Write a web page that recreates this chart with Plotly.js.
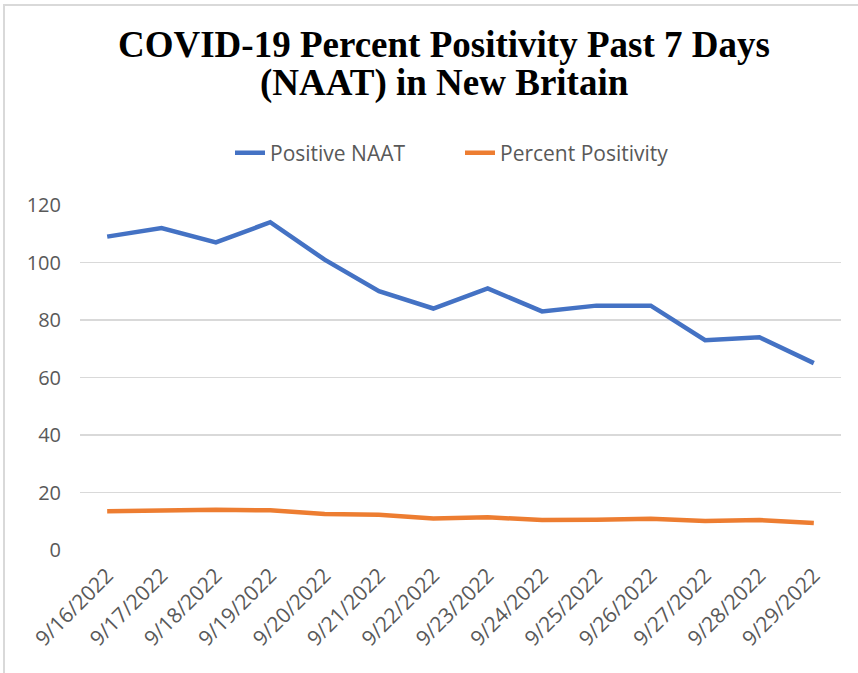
<!DOCTYPE html>
<html>
<head>
<meta charset="utf-8">
<script src="https://cdn.plot.ly/plotly-3.0.1.min.js"></script>
<style>
html,body{margin:0;padding:0;background:#fff;}
#frame{position:absolute;left:3px;top:4px;width:900px;height:700px;border-top:2px solid #d9d9d9;border-left:2px solid #d9d9d9;}
#chart{position:absolute;left:0;top:0;width:858px;height:673px;}
</style>
</head>
<body>
<div id="frame"></div>
<div id="chart"></div>
<script>
const dates = ["9/16/2022","9/17/2022","9/18/2022","9/19/2022","9/20/2022","9/21/2022","9/22/2022","9/23/2022","9/24/2022","9/25/2022","9/26/2022","9/27/2022","9/28/2022","9/29/2022"];
const positiveNAAT = [109,112,107,114,101,90,84,91,83,85,85,73,74,65];
const percentPositivity = [13.5,13.9,14.0,13.8,12.5,12.3,11.0,11.4,10.4,10.5,10.9,10.1,10.4,9.4];
const yTicks = [0,20,40,60,80,100,120];
const titleLines = ["COVID-19 Percent Positivity Past 7 Days", "(NAAT) in New Britain"];

const W = 858, H = 673, mL = 80, mR = 17, mT = 205, mB = 123;
const plotW = W - mL - mR, plotH = H - mT - mB;
const px2x = x => (x - mL) / plotW;
const py2y = y => (H - mB - y) / plotH;

const traces = [
  {x: dates, y: positiveNAAT, name: "Positive NAAT", type: "scatter", mode: "lines",
   line: {color: "#4472C4", width: 4.5}},
  {x: dates, y: percentPositivity, name: "Percent Positivity", type: "scatter", mode: "lines",
   line: {color: "#ED7D31", width: 4.5}}
];

const titleFont = {family: "Liberation Serif, Times New Roman, serif", size: 37, color: "#000", weight: "bold"};
const tickFontFamily = "Open Sans, Liberation Sans, sans-serif";

const layout = {
  width: W, height: H,
  paper_bgcolor: "rgba(0,0,0,0)", plot_bgcolor: "rgba(0,0,0,0)",
  margin: {l: mL, r: mR, t: mT, b: mB},
  annotations: [
    {text: "<b>" + titleLines[0] + "</b>", xref: "paper", yref: "paper", x: px2x(444), y: py2y(45),
     xanchor: "center", yanchor: "middle", showarrow: false, font: titleFont},
    {text: "<b>" + titleLines[1] + "</b>", xref: "paper", yref: "paper", x: px2x(444), y: py2y(83),
     xanchor: "center", yanchor: "middle", showarrow: false, font: titleFont}
  ],
  showlegend: true,
  legend: {orientation: "h", x: px2x(230), xanchor: "left", y: 1 - 153 / H, yref: "container", yanchor: "middle",
    entrywidth: 185, entrywidthmode: "pixels",
    font: {family: tickFontFamily, size: 21, color: "#595959"}},
  xaxis: {type: "category", range: [-0.5, 13.5], tickangle: -45, showgrid: false, zeroline: false,
    showline: false, ticks: "", ticklabelstandoff: 8,
    tickfont: {family: tickFontFamily, size: 21, color: "#595959"}, fixedrange: true},
  yaxis: {range: [0, 120], tickvals: yTicks, ticktext: yTicks.map(String), showgrid: true, gridcolor: "#d9d9d9", gridwidth: 1.5,
    zeroline: false, showline: false, ticks: "", ticklabelstandoff: 18,
    tickfont: {family: tickFontFamily, size: 20, color: "#595959"}, fixedrange: true}
};

Plotly.newPlot("chart", traces, layout, {displayModeBar: false, staticPlot: true});
</script>
</body>
</html>
